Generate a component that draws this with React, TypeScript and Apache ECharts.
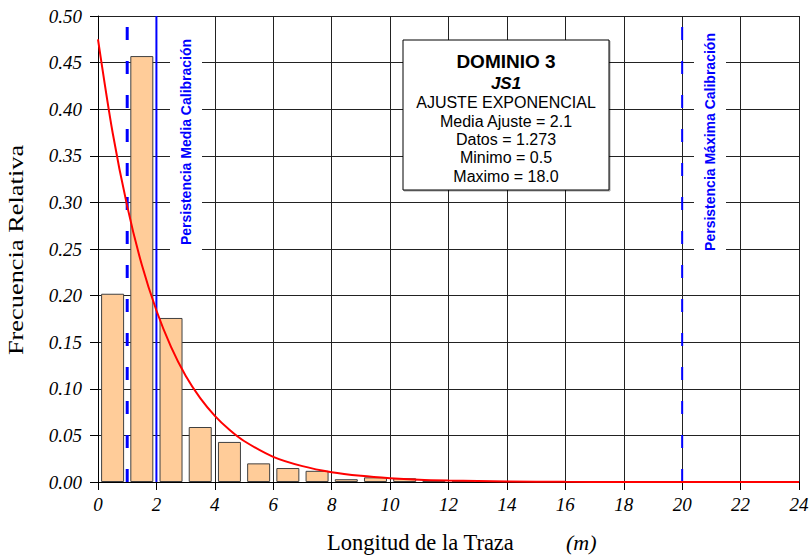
import React, { useEffect, useRef } from "react";
import * as echarts from "echarts";

// Histogram bins (start of each 1 m bin) and relative frequencies
const binStarts = [0, 1, 2, 3, 4, 5, 6, 7, 8, 9, 10, 11, 12];
const relFreq = [0.202, 0.457, 0.176, 0.059, 0.043, 0.020, 0.015, 0.012, 0.003, 0.005, 0.004, 0.002, 0.001];

// Exponential fit curve
const fitX = [0, 0.5, 1, 1.5, 2, 2.5, 3, 3.5, 4, 4.5, 5, 6, 7, 8, 9, 10, 11, 12, 13, 14, 16, 18, 20, 22, 24];
const fitY = [0.475, 0.375, 0.296, 0.233, 0.184, 0.145, 0.114, 0.090, 0.071, 0.056, 0.044, 0.027, 0.017, 0.0105, 0.0066, 0.0041, 0.0025, 0.0016, 0.001, 0.0006, 0.0002, 0.0001, 0.00005, 0.00002, 0.00001];

// Calibration persistence lines
const persistMin = 1;
const persistMedia = 2;
const persistMax = 20;
const yTop = 0.5;

const boxLines = [
  "DOMINIO 3",
  "JS1",
  "AJUSTE EXPONENCIAL",
  "Media Ajuste = 2.1",
  "Datos = 1.273",
  "Minimo = 0.5",
  "Maximo = 18.0",
];

const xTitle = "Longitud de la Traza";
const xUnit = "(m)";
const yTitle = "Frecuencia Relativa";
const labelMedia = "Persistencia Media Calibración";
const labelMax = "Persistencia Máxima Calibración";

const SERIF = "Liberation Serif";
const SANS = "Liberation Sans";

export default function App() {
  const ref = useRef<HTMLDivElement>(null);

  useEffect(() => {
    if (!ref.current) return;
    const chart = echarts.init(ref.current, null, { renderer: "svg" });

    const boxX = 403, boxY = 40, boxW = 206, boxH = 150;
    const cx = boxX + boxW / 2;
    const lineYs = [61, 83, 102, 121, 139, 157.5, 176];
    const boxTexts = boxLines.map((t, i) => ({
      type: "text",
      x: cx,
      y: lineYs[i],
      z: 101,
      style: {
        text: t,
        align: "center",
        verticalAlign: "middle",
        fill: "#000",
        fontFamily: SANS,
        fontSize: i === 0 ? 19 : i === 1 ? 17 : 16,
        fontWeight: i <= 1 ? "bold" : "normal",
        fontStyle: i === 1 ? "italic" : "normal",
      },
    }));

    const vline = (xv: number, dashed: boolean, w: number) => ({
      type: "line",
      data: [[xv, 0], [xv, yTop]],
      showSymbol: false,
      symbol: "none",
      z: 5,
      lineStyle: { color: "#0000FF", width: w, type: dashed ? [13, 21] : "solid" },
      silent: true,
    });

    chart.setOption({
      animation: false,
      grid: { left: 98, right: 13, top: 16, bottom: 77, containLabel: false },
      xAxis: {
        type: "value",
        min: 0,
        max: 24,
        interval: 2,
        axisLine: { show: true, onZero: false, lineStyle: { color: "#000", width: 1 } },
        axisTick: { show: true, length: 8, lineStyle: { color: "#000" } },
        axisLabel: {
          margin: 13,
          color: "#000",
          fontFamily: SERIF,
          fontStyle: "italic",
          fontSize: 19,
        },
        splitLine: { show: true, lineStyle: { color: "#222", width: 1 } },
      },
      yAxis: {
        type: "value",
        min: 0,
        max: 0.5,
        interval: 0.05,
        axisLine: { show: true, onZero: false, lineStyle: { color: "#000", width: 1 } },
        axisTick: { show: true, length: 8, lineStyle: { color: "#000" } },
        axisLabel: {
          margin: 16,
          color: "#000",
          fontFamily: SERIF,
          fontStyle: "italic",
          fontSize: 19,
          formatter: (v: number) => v.toFixed(2),
        },
        splitLine: { show: true, lineStyle: { color: "#222", width: 1 } },
      },
      series: [
        {
          type: "bar",
          data: binStarts.map((s, i) => [s + 0.5, relFreq[i]]),
          barWidth: 23,
          z: 2,
          itemStyle: { color: "#FFCC99", borderColor: "#404040", borderWidth: 1 },
          silent: true,
        },
        vline(persistMin, true, 3),
        vline(persistMedia, false, 2),
        vline(persistMax, true, 2),
        {
          type: "line",
          data: fitX.map((x, i) => [x, fitY[i]]),
          smooth: 0.3,
          showSymbol: false,
          symbol: "none",
          z: 6,
          lineStyle: { color: "#FF0000", width: 2 },
          silent: true,
        },
      ],
      graphic: [
        {
          type: "text",
          x: 186,
          y: 142,
          rotation: Math.PI / 2,
          z: 50,
          style: {
            text: labelMedia,
            align: "center",
            verticalAlign: "middle",
            fill: "#0000FF",
            fontFamily: SANS,
            fontWeight: "bold",
            fontSize: 14,
            backgroundColor: "#fff",
            padding: [9, 12],
          },
        },
        {
          type: "text",
          x: 710,
          y: 142,
          rotation: Math.PI / 2,
          z: 50,
          style: {
            text: labelMax,
            align: "center",
            verticalAlign: "middle",
            fill: "#0000FF",
            fontFamily: SANS,
            fontWeight: "bold",
            fontSize: 14,
            backgroundColor: "#fff",
            padding: [9, 10],
          },
        },
        {
          type: "rect",
          shape: { x: boxX, y: boxY, width: boxW, height: boxH },
          z: 100,
          style: { fill: "#fff", stroke: "#000", lineWidth: 1, shadowColor: "rgba(0,0,0,0.35)", shadowOffsetX: 1, shadowOffsetY: 1, shadowBlur: 1 },
        },
        ...boxTexts,
        {
          type: "text",
          x: 15,
          y: 250,
          rotation: Math.PI / 2,
          scaleX: 1.2,
          style: {
            text: yTitle,
            align: "center",
            verticalAlign: "middle",
            fill: "#000",
            fontFamily: SERIF,
            fontSize: 22,
          },
        },
        {
          type: "text",
          x: 327,
          y: 542,
          style: {
            text: xTitle,
            align: "left",
            verticalAlign: "middle",
            fill: "#000",
            fontFamily: SERIF,
            fontSize: 22.5,
          },
        },
        {
          type: "text",
          x: 566,
          y: 542,
          style: {
            text: xUnit,
            align: "left",
            verticalAlign: "middle",
            fill: "#000",
            fontFamily: SERIF,
            fontStyle: "italic",
            fontSize: 22,
          },
        },
      ],
    });

    return () => chart.dispose();
  }, []);

  return (
    <div
      ref={ref}
      style={{ position: "fixed", left: 0, top: 0, width: 812, height: 559, background: "#fff" }}
    />
  );
}
